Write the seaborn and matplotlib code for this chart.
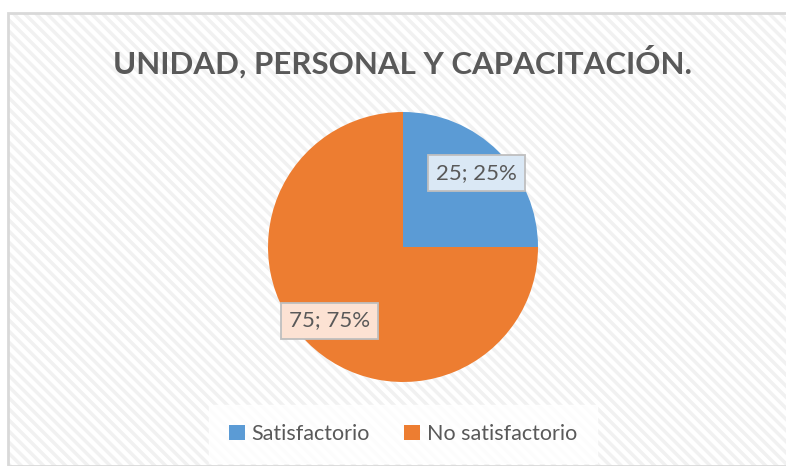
import numpy as np
import matplotlib
matplotlib.use("Agg")
import matplotlib.pyplot as plt
import seaborn as sns
from matplotlib.patches import Rectangle, Patch

categories = ["Satisfactorio", "No satisfactorio"]
values = [25, 75]
percents = [25, 75]
title = "UNIDAD, PERSONAL Y CAPACITACIÓN."

sns.set_theme(style="white")
plt.rcParams['font.family'] = ['Lato', 'DejaVu Sans']
plt.rcParams['hatch.linewidth'] = 2.5
plt.rcParams['hatch.color'] = "#F1F1F1"

colors = ["#5B9BD5", "#ED7D31"]
label_fill = ["#DAE8F5", "#FCE2D3"]
text_color = "#595959"

W, H = 786, 466
fig = plt.figure(figsize=(W / 100, H / 100), dpi=100)
fig.patch.set_facecolor("white")

# hatched chart background with border
bg = Rectangle((8 / W, 0), 1, 1 - 13 / H, transform=fig.transFigure,
               facecolor="white", edgecolor="#F1F1F1", linewidth=0,
               hatch="\\\\\\", zorder=0)
fig.patches.append(bg)
bg2 = Rectangle((8 / W, 0), 1, 1 - 13 / H, transform=fig.transFigure,
                facecolor="none", edgecolor="#D9D9D9", linewidth=2, zorder=1)
fig.patches.append(bg2)

cx, cy, r = 403, 247, 135
ax = fig.add_axes([(cx - r) / W, (H - cy - r) / H, 2 * r / W, 2 * r / H])
ax.set_zorder(5)
ax.patch.set_visible(False)

wedges, _ = ax.pie(values, colors=colors, startangle=90, counterclock=False,
                   radius=1, wedgeprops=dict(linewidth=0))
ax.set_xlim(-1, 1)
ax.set_ylim(-1, 1)
ax.set_aspect("equal")
ax.axis("off")

for w, v, p, fc in zip(wedges, values, percents, label_fill):
    ang = np.deg2rad((w.theta1 + w.theta2) / 2)
    x, y = 0.77 * np.cos(ang), 0.77 * np.sin(ang)
    ax.text(x, y, f"{v}; {p}%", ha="center", va="center", fontsize=16,
            color=text_color,
            bbox=dict(boxstyle="square,pad=0.36", facecolor=fc,
                      edgecolor="#BFBFBF", linewidth=1.3))

fig.text(403 / W, 1 - 62 / H, title, ha="center", va="center",
         fontsize=22.5, fontweight="bold", color=text_color, zorder=6)

handles = [Patch(facecolor=c, edgecolor="none") for c in colors]
leg = fig.legend(handles, categories, loc="center", ncol=2,
                 bbox_to_anchor=(403 / W, 1 - 434 / H), frameon=True,
                 fontsize=15.5, handlelength=0.75, handleheight=0.75,
                 handletextpad=0.3, columnspacing=1.6, borderpad=0.6)
leg.set_zorder(6)
for t in leg.get_texts():
    t.set_color(text_color)
fr = leg.get_frame()
fr.set_facecolor("white")
fr.set_edgecolor("white")
fr.set_alpha(0.85)
fr.set_boxstyle("square")

fig.savefig("out.png", dpi=100)
